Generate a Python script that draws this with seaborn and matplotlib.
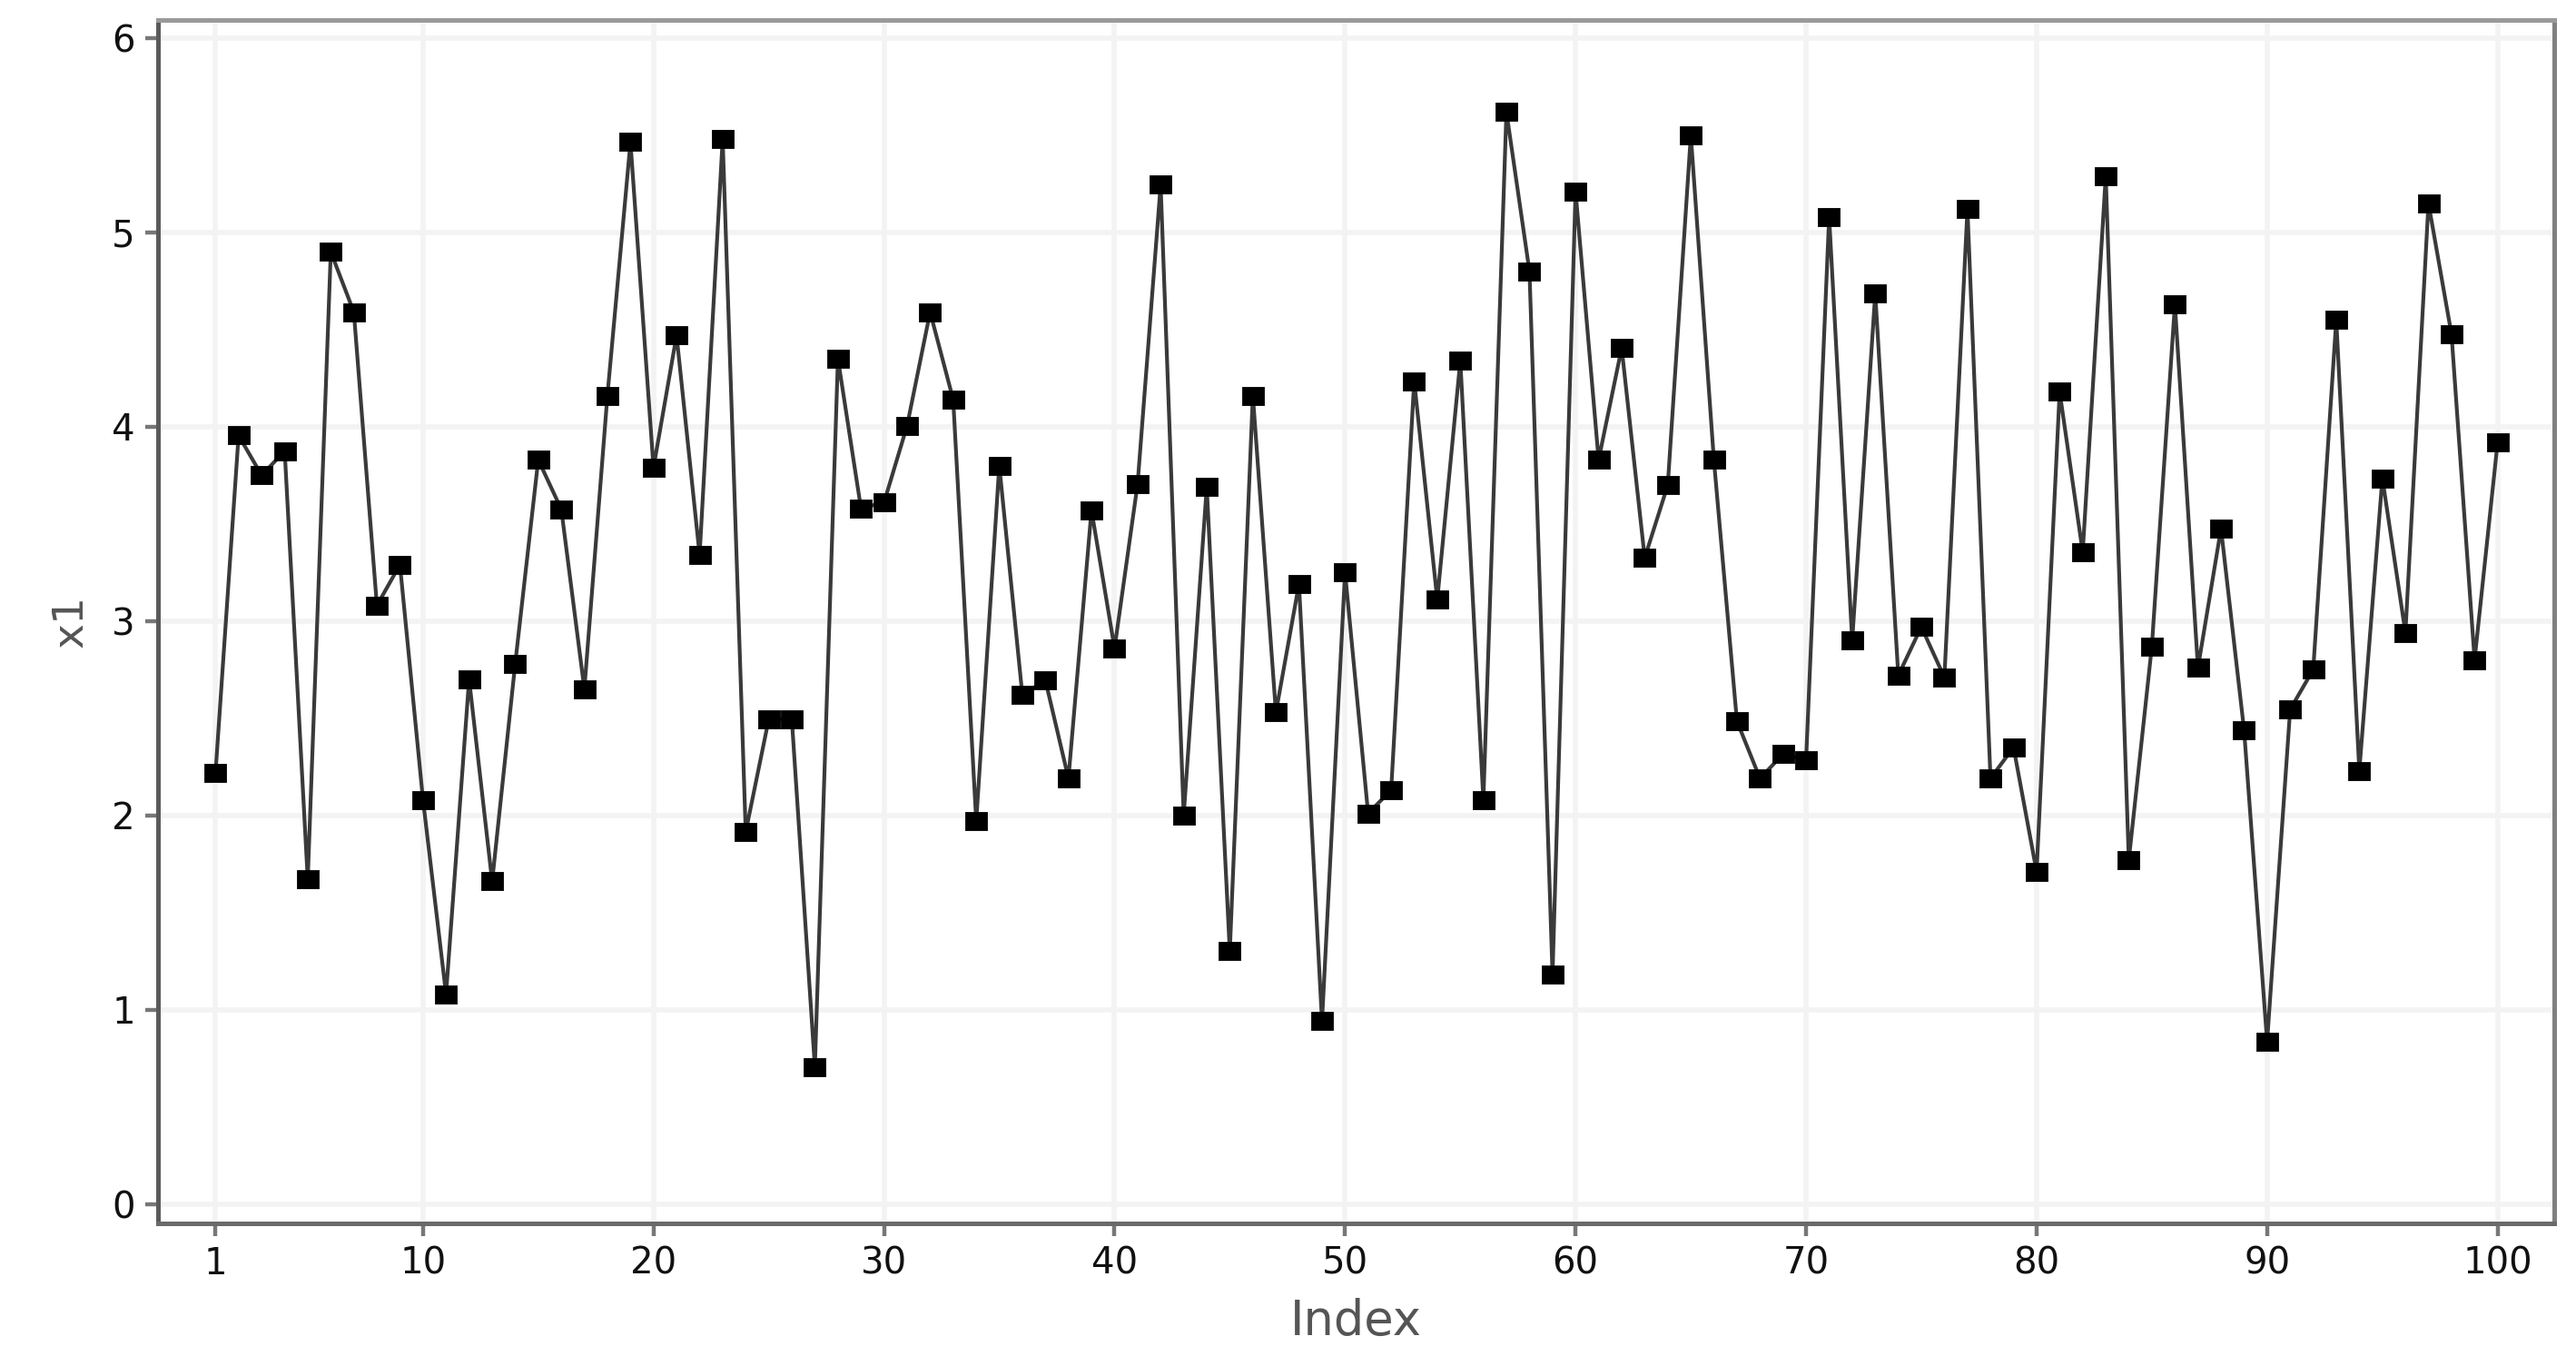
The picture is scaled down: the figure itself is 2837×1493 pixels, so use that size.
import matplotlib
matplotlib.use("Agg")
import matplotlib.pyplot as plt
import seaborn as sns
import pandas as pd

index = list(range(1, 101))
x1 = [
    2.22, 3.955, 3.75, 3.875, 1.67, 4.90, 4.59, 3.08, 3.29, 2.08,
    1.08, 2.70, 1.66, 2.78, 3.83, 3.575, 2.65, 4.16, 5.465, 3.79,
    4.47, 3.34, 5.48, 1.915, 2.495, 2.495, 0.705, 4.35, 3.58, 3.61,
    4.005, 4.59, 4.14, 1.97, 3.80, 2.62, 2.695, 2.19, 3.57, 2.86,
    3.705, 5.245, 2.00, 3.69, 1.30, 4.16, 2.53, 3.19, 0.94, 3.25,
    2.01, 2.13, 4.235, 3.11, 4.34, 2.08, 5.62, 4.80, 1.18, 5.21,
    3.83, 4.405, 3.325, 3.70, 5.50, 3.83, 2.485, 2.19, 2.315, 2.285,
    5.08, 2.90, 4.685, 2.72, 2.97, 2.71, 5.12, 2.19, 2.35, 1.71,
    4.18, 3.355, 5.29, 1.77, 2.87, 4.63, 2.76, 3.475, 2.44, 0.835,
    2.545, 2.75, 4.55, 2.23, 3.735, 2.94, 5.15, 4.475, 2.80, 3.92,
]
x_ticks = [1, 10, 20, 30, 40, 50, 60, 70, 80, 90, 100]
y_ticks = [0, 1, 2, 3, 4, 5, 6]
x_label = "Index"
y_label = "x1"

df = pd.DataFrame({"Index": index, "x1": x1})

sns.set_style("white")
plt.rcParams["font.family"] = ["DejaVu Sans"]

DPI = 200
fig = plt.figure(figsize=(2837 / DPI, 1493 / DPI), dpi=DPI)
ax = fig.add_axes([0.0613, 0.0978, 0.9915 - 0.0613, 0.9855 - 0.0978])

ax.grid(True, color="#f3f3f3", linewidth=2.0, zorder=0)
ax.set_axisbelow(True)

rect_marker = [(-1.2, -1.0), (1.2, -1.0), (1.2, 1.0), (-1.2, 1.0), (-1.2, -1.0)]

sns.lineplot(data=df, x="Index", y="x1", ax=ax, color="#3a3a3a",
             linewidth=1.5, marker=rect_marker, markersize=8.5,
             markerfacecolor="black", markeredgecolor="black",
             markeredgewidth=0.3, zorder=3)

ax.set_xlim(-1.5, 102.45)
ax.set_ylim(-0.1, 6.095)
ax.set_xticks(x_ticks)
ax.set_yticks(y_ticks)
ax.set_xticklabels([str(t) for t in x_ticks])
ax.set_yticklabels([str(t) for t in y_ticks])

ax.tick_params(axis="both", which="major", direction="out", length=5,
               width=1.6, color="#777777", labelsize=14.5, labelcolor="#111111",
               pad=4)
ax.tick_params(axis="x", bottom=True)
ax.tick_params(axis="y", left=True)

ax.set_xlabel(x_label, fontsize=19, color="#555555", labelpad=6)
ax.set_ylabel(y_label, fontsize=17, color="#555555", labelpad=8)

for side, col in [("left", "#5a5a5a"), ("bottom", "#6a6a6a"),
                  ("top", "#9a9a9a"), ("right", "#808080")]:
    ax.spines[side].set_visible(True)
    ax.spines[side].set_color(col)
    ax.spines[side].set_linewidth(1.8)

fig.savefig("out.png", dpi=DPI, facecolor="white")
